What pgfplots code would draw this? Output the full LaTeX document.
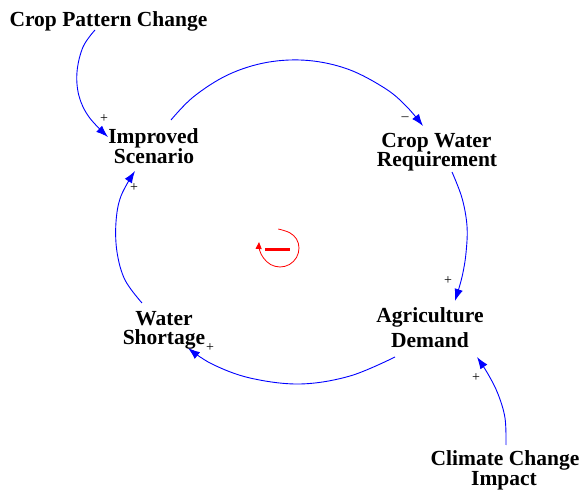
\documentclass[border=0pt]{standalone}
\usepackage{fontspec}
\setmainfont{Liberation Serif}
\usepackage{pgfplots}
\pgfplotsset{compat=1.18}
\usetikzlibrary{arrows.meta}
\definecolor{cldblue}{RGB}{0,0,255}
\definecolor{cldred}{RGB}{255,0,0}
\begin{document}
\begin{tikzpicture}
\begin{axis}[
  width=582pt, height=489pt, scale only axis,
  xmin=0, xmax=582, ymin=0, ymax=489, y dir=reverse,
  hide axis, clip=false,
  every axis plot/.append style={no markers, smooth, tension=0.6},
]
\path (rel axis cs:0,0) rectangle (rel axis cs:1,1);
% links
\addplot[cldblue, line width=0.9pt, -{Latex[length=12pt,width=8.5pt]}] coordinates {(95,30) (83,47) (77,72) (79,96) (89,117) (108,137)};
\addplot[cldblue, line width=0.9pt, -{Latex[length=12pt,width=8.5pt]}] coordinates {(171,120) (193.5,96.8) (228.2,74.7) (267.4,62.3) (308.5,60.5) (348.6,69.4) (385.1,88.4) (406.1,106.0) (423,126)};
\addplot[cldblue, line width=0.9pt, -{Latex[length=12pt,width=8.5pt]}] coordinates {(452,172) (462,198) (467,226) (466,253) (462,277) (455,301)};
\addplot[cldblue, line width=0.9pt, -{Latex[length=12pt,width=8.5pt]}] coordinates {(395,357) (350,376) (300,384) (250,378) (212,364) (188,348)};
\addplot[cldblue, line width=0.9pt, -{Latex[length=12pt,width=8.5pt]}] coordinates {(142,303) (125,280) (117,252) (116,222) (121,196) (135,171)};
\addplot[cldblue, line width=0.9pt, -{Latex[length=12pt,width=8.5pt]}] coordinates {(506,445) (505,418) (498,394) (488,374) (477,357)};
% loop symbol
\addplot[cldred, line width=0.8pt, -{Triangle[length=7pt,width=6pt]}] coordinates {(278.3,229) (289.5,232.6) (296.5,239) (299,248) (296.5,257.5) (289.5,264.5) (280,267) (270.5,264.5) (263.5,258) (259.5,250) (259,242)};
\addplot[cldred, line width=2.6pt, smooth=false] coordinates {(265,249.5) (290,249.5)};
% labels
\begin{scope}[every node/.style={font=\fontsize{21.5}{22}\selectfont\bfseries, anchor=base, inner sep=0pt}]
\node at (axis cs:108.5,27) {Crop Pattern Change};
\node at (axis cs:153.5,144) {Improved};
\node at (axis cs:154,164) {Scenario};
\node at (axis cs:436.5,147.5) {Crop Water};
\node at (axis cs:437,167) {Requirement};
\node at (axis cs:430,322.5) {Agriculture};
\node at (axis cs:430,347.5) {Demand};
\node at (axis cs:164,325.5) {Water};
\node at (axis cs:164,345) {Shortage};
\node at (axis cs:505,466) {Climate Change};
\node at (axis cs:504,486) {Impact};
\end{scope}
\begin{scope}[every node/.style={font=\fontsize{14}{14}\selectfont, inner sep=0pt}]
\node at (axis cs:104,119) {+};
\node at (axis cs:134,188) {+};
\node at (axis cs:448,281) {+};
\node at (axis cs:210,348) {+};
\node at (axis cs:476,378) {+};
\node at (axis cs:405,119) {\textendash};
\end{scope}
\end{axis}
\end{tikzpicture}
\end{document}
